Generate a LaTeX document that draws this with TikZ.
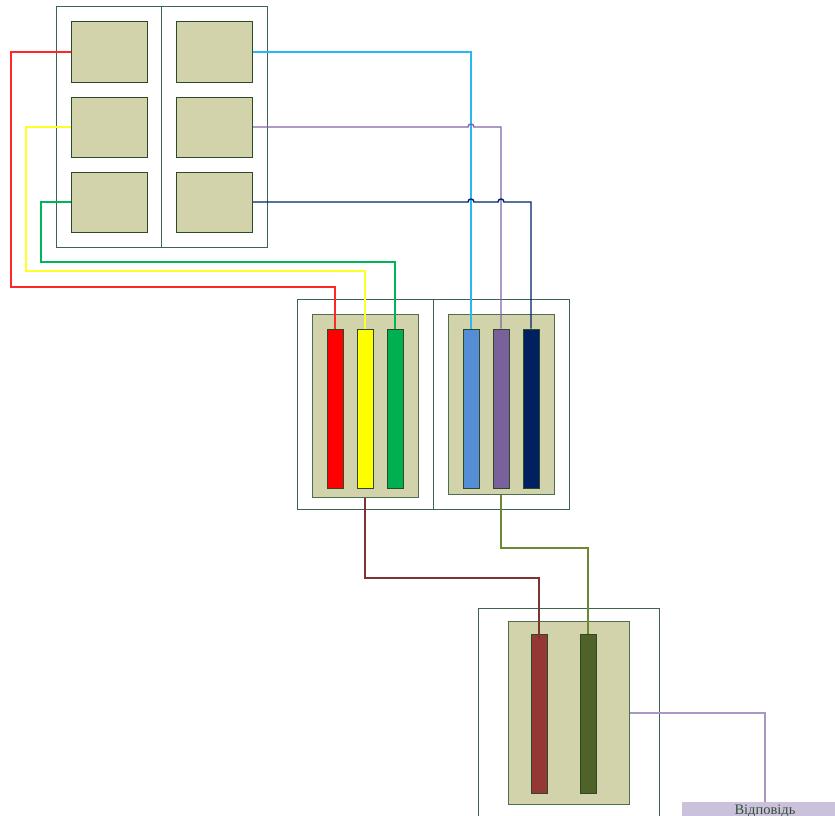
\documentclass[tikz,border=0pt]{standalone}
\usepackage{fontspec}
\setmainfont{Liberation Serif}
\definecolor{panelfill}{RGB}{210,211,171}
\definecolor{outerc}{RGB}{60,100,80}
\definecolor{panelc}{RGB}{78,110,82}
\definecolor{cellc}{RGB}{42,74,42}
\definecolor{WireRed}{RGB}{255,40,40}
\definecolor{WireYellow}{RGB}{255,255,40}
\definecolor{WireGreen}{RGB}{0,180,90}
\definecolor{WireCyan}{RGB}{40,185,240}
\definecolor{WirePurple}{RGB}{128,100,170}
\definecolor{WireNavy}{RGB}{0,32,110}
\definecolor{WireBrown}{RGB}{127,50,50}
\definecolor{WireOlive}{RGB}{110,135,50}
\definecolor{WireLab}{RGB}{170,150,195}
\definecolor{BarRed}{RGB}{255,0,0}
\definecolor{BarYellow}{RGB}{255,255,0}
\definecolor{BarGreen}{RGB}{0,176,80}
\definecolor{BarBlue}{RGB}{85,142,213}
\definecolor{BarPurple}{RGB}{123,97,155}
\definecolor{BarNavy}{RGB}{0,32,96}
\definecolor{BarBrown}{RGB}{149,55,53}
\definecolor{BarOlive}{RGB}{79,98,40}
\definecolor{labfill}{RGB}{204,193,218}
\definecolor{labtext}{RGB}{47,79,58}
\tikzset{
  outerbox/.style={draw=outerc, line width=1pt, fill=white, rectangle, inner sep=0pt},
  panelbox/.style={draw=panelc, line width=1pt, fill=panelfill, rectangle, inner sep=0pt},
  cellbox/.style={draw=cellc, line width=1pt, fill=panelfill, rectangle, inner sep=0pt, minimum width=76pt, minimum height=60pt},
  barbox/.style={draw=cellc, line width=0.8pt, rectangle, inner sep=0pt, minimum width=16pt, minimum height=159pt},
  wire/.style={line width=1.4pt},
}
\begin{document}
\begin{tikzpicture}[x=1pt,y=-1pt]
\useasboundingbox (0,0) rectangle (835,816);
% top block
\node[outerbox, minimum width=211pt, minimum height=240pt] (top) at (161.5,127) {};
\draw[outerc, line width=1pt] (top.north) -- (top.south);
\node[cellbox] (a1) at (109,52) {};
\node[cellbox] (a2) at (109,127) {};
\node[cellbox] (a3) at (109,202) {};
\node[cellbox] (b1) at (214.5,52) {};
\node[cellbox] (b2) at (214.5,127) {};
\node[cellbox] (b3) at (214.5,202) {};
% middle block
\node[outerbox, minimum width=272pt, minimum height=210pt] (mid) at (433,404) {};
\draw[outerc, line width=1pt] (mid.north) -- (mid.south);
\node[panelbox, minimum width=106pt, minimum height=183pt] (lpan) at (365,405.5) {};
\node[panelbox, minimum width=106pt, minimum height=180pt] (rpan) at (501,404) {};
\node[barbox, fill=BarRed] (rbar) at (335,408.5) {};
\node[barbox, fill=BarYellow] (ybar) at (365,408.5) {};
\node[barbox, fill=BarGreen] (gbar) at (395,408.5) {};
\node[barbox, fill=BarBlue] (cbar) at (471,408.5) {};
\node[barbox, fill=BarPurple] (pbar) at (501,408.5) {};
\node[barbox, fill=BarNavy] (nbar) at (531,408.5) {};
% bottom block
\node[outerbox, minimum width=181pt, minimum height=230pt] (bot) at (568.5,723) {};
\node[panelbox, minimum width=121pt, minimum height=183pt] (bpan) at (568.5,713) {};
\node[barbox, fill=BarBrown] (brbar) at (539,713.5) {};
\node[barbox, fill=BarOlive] (olbar) at (588,713.5) {};
% label
\node[anchor=north, fill=labfill, minimum width=166pt, text height=10pt, text depth=1pt, inner ysep=2pt, text=labtext, font=\fontsize{14.5}{16}\selectfont] (lab) at (765,802) {Відповідь};
% wires left
\draw[wire, draw=WireRed] (a1.west) -| (11,287) -| (rbar.north);
\draw[wire, draw=WireYellow] (a2.west) -| (26,271) -| (ybar.north);
\draw[wire, draw=WireGreen] (a3.west) -| (41,262) -| (gbar.north);
% wires right
\draw[wire, draw=WireCyan] (b1.east) -| (cbar.north);
\draw[wire, draw=WirePurple] (b2.east) -- (468,127) .. controls (468,123) and (474,123) .. (474,127) -| (pbar.north);
\draw[wire, draw=WireNavy] (b3.east) -- (468,202) .. controls (468,198) and (474,198) .. (474,202) -- (498,202) .. controls (498,198) and (504,198) .. (504,202) -| (nbar.north);
% lower wires
\draw[wire, draw=WireBrown] (lpan.south) -- (365,578) -| ([yshift=-5pt]brbar.north);
\draw[wire, draw=WireOlive] (rpan.south) -- (501,548) -| (olbar.north);
\draw[wire, draw=WireLab] (bpan.east) -| (lab.north);
\end{tikzpicture}
\end{document}
